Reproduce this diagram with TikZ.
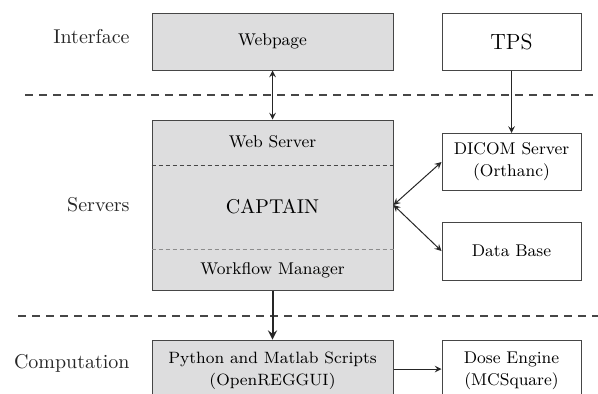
\documentclass[tikz,border=0pt]{standalone}
\usepackage{xcolor}
\usepackage{tikz}
\usetikzlibrary{shapes}
\usetikzlibrary{arrows}
\usetikzlibrary{calc}
\definecolor{boxgray}{RGB}{221,221,222}
\definecolor{linegray}{RGB}{70,70,70}
\tikzstyle{gbox}=[rectangle,draw=linegray,fill=boxgray,line width=0.5pt,
        inner sep=0pt,align=center,font=\fontsize{8.5}{11}\selectfont]
\tikzstyle{wbox}=[rectangle,draw=linegray,fill=white,line width=0.5pt,
        inner sep=0pt,align=center,font=\fontsize{8.5}{11}\selectfont]
\tikzstyle{layer}=[anchor=east,inner sep=0pt,text=black!85,font=\fontsize{10}{12}\selectfont]
\tikzstyle{separ}=[linegray,line width=1pt,dash pattern=on 4pt off 3pt]
\tikzstyle{inner}=[line width=0.4pt,dash pattern=on 2pt off 1.5pt]
\tikzstyle{suite}=[->,>=stealth,line width=0.5pt,black!85]

\begin{document}
\begin{tikzpicture}[x=0.5pt,y=-0.5pt]
\useasboundingbox (0,0) rectangle (598,393);
\clip (0,0) rectangle (598,393);
\node[gbox,minimum width=120.5pt,minimum height=28.5pt] (web) at (272.5,41.5) {Webpage};
\node[wbox,minimum width=69.5pt,minimum height=28.5pt,font=\fontsize{11}{13}\selectfont] (tps) at (511.5,41.5) {TPS};
\node[gbox,minimum width=120.5pt,minimum height=85pt] (captain) at (272.5,205) {};
\node[inner sep=0pt,font=\fontsize{10}{12}\selectfont] (captname) at (272.5,207) {CAPTAIN};
\node[inner sep=0pt,font=\fontsize{8.5}{11}\selectfont] (websrv) at (272.5,142) {Web Server};
\node[inner sep=0pt,font=\fontsize{8.5}{11}\selectfont] (flow) at (272.5,270) {Workflow Manager};
\node[wbox,minimum width=69.5pt,minimum height=28.5pt] (dicom) at (511.5,162) {DICOM Server\\(Orthanc)};
\node[wbox,minimum width=69.5pt,minimum height=29pt] (db) at (511.5,251) {Data Base};
\node[gbox,minimum width=120.5pt,minimum height=31pt,font=\fontsize{8.2}{11}\selectfont] (python) at (272.5,371) {Python and Matlab Scripts\\(OpenREGGUI)};
\node[wbox,minimum width=69.5pt,minimum height=31pt] (dose) at (511.5,371) {Dose Engine\\(MCSquare)};
\node[layer] (interface) at (130,37) {Interface};
\node[layer] (servers) at (130,205) {Servers};
\node[layer] (comput) at (130,363) {Computation};
%layer separators
\coordinate (s1a) at (25,95);
\coordinate (s1b) at (600,95);
\coordinate (s2a) at (18,316);
\coordinate (s2b) at (600,316);
\draw[separ] (s1a) -- (s1b);
\draw[separ] (s2a) -- (s2b);
\draw[inner,linegray] (captain.west |- 0,165) -- (captain.east |- 0,165);
\draw[inner,black!45] (captain.west |- 0,249) -- (captain.east |- 0,249);
%arrows
\draw[suite,<->] (web) -- (captain);
\draw[suite] (tps) -- (dicom);
\draw[suite,<->] (captain.east) -- (dicom.west);
\draw[suite,<->] (captain.east) -- (db.west);
\draw[suite,line width=1pt] (captain) -- (python);
\draw[suite] (python.east |- 0,369) -- (dose.west |- 0,369);
\end{tikzpicture}
\end{document}
